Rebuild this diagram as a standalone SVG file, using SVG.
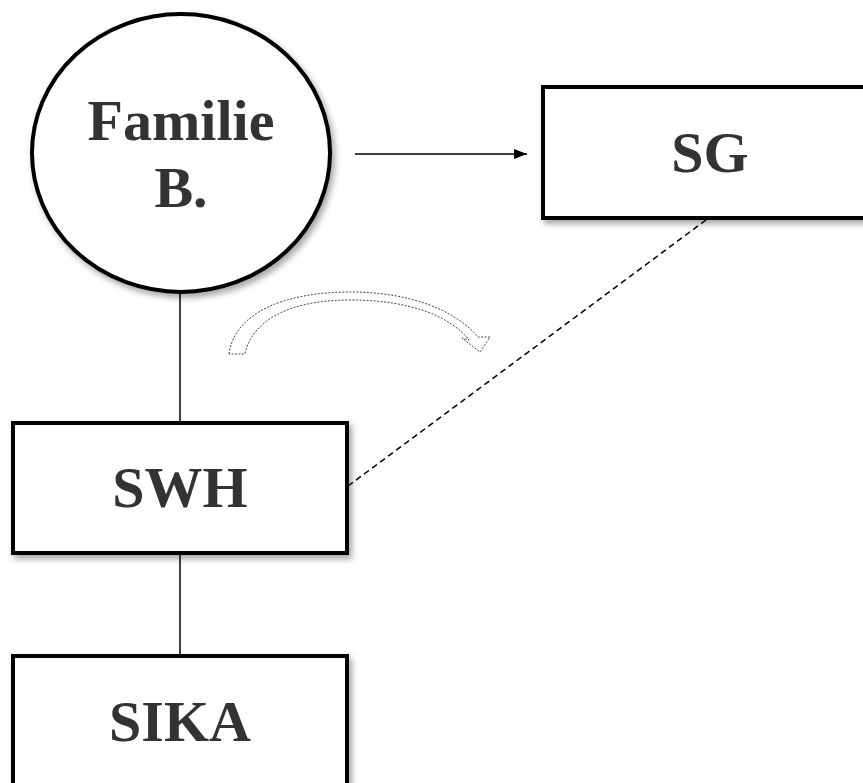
<svg xmlns="http://www.w3.org/2000/svg" width="863" height="783" viewBox="0 0 863 783">
<defs>
<style>
.node{fill:#fff;stroke:#000;stroke-width:4;filter:url(#sh)}
.lbl{font-family:"Liberation Serif",serif;font-weight:bold;font-size:58px;fill:#333;text-anchor:middle}
.conn{stroke:#000;stroke-width:1.5;fill:none}
</style>
<filter id="sh" x="-20%" y="-20%" width="140%" height="140%">
<feDropShadow dx="3" dy="4" stdDeviation="3" flood-color="#000" flood-opacity="0.35"/>
</filter>
<marker id="ah" markerWidth="14" markerHeight="12" refX="13" refY="6" orient="auto" markerUnits="userSpaceOnUse">
<path d="M0,1 L13,6 L0,11 Z" fill="#000"/>
</marker>
</defs>
<rect width="863" height="783" fill="#fff"/>
<g id="connectors">
<line class="conn" x1="180" y1="293" x2="180" y2="423"/>
<line class="conn" x1="180" y1="553" x2="180" y2="655"/>
<line class="conn" x1="355" y1="154" x2="527" y2="154" marker-end="url(#ah)"/>
<line class="conn" x1="706" y1="220" x2="348" y2="486" stroke-dasharray="6,4"/>
<path d="M229,354 C235,310 290,292 350,292 C410,292 455,310 478,337 L490,337 L480,352 L462,338 L469,340 C450,316 410,300 350,300 C290,300 252,320 245,354 Z" fill="#fff" stroke="#444" stroke-width="1" stroke-dasharray="2,1.5"/>
</g>
<g id="familie">
<ellipse class="node" cx="181" cy="153" rx="149" ry="139"/>
<text class="lbl" x="181" y="140">Familie</text>
<text class="lbl" x="181" y="207">B.</text>
</g>
<g id="sg">
<rect class="node" x="543" y="87" width="334" height="131"/>
<text class="lbl" x="710" y="172">SG</text>
</g>
<g id="swh">
<rect class="node" x="13" y="423" width="334" height="130"/>
<text class="lbl" x="180" y="507">SWH</text>
</g>
<g id="sika">
<rect class="node" x="13" y="656" width="334" height="140"/>
<text class="lbl" x="180" y="741">SIKA</text>
</g>
</svg>
